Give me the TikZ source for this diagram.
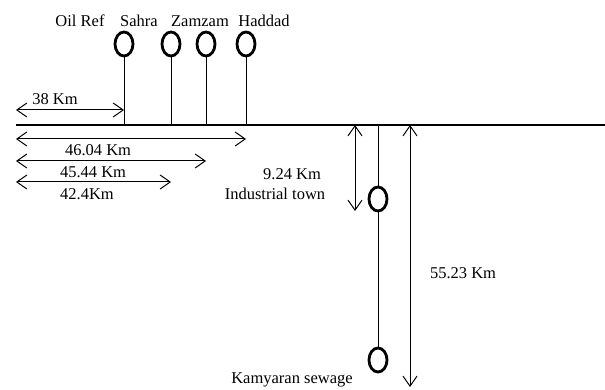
\documentclass[tikz,border=0pt]{standalone}
\usepackage{fontspec}
\setmainfont{Liberation Serif}
\usetikzlibrary{arrows.meta,shapes.geometric}
\begin{document}
\begin{tikzpicture}[x=1pt, y=-1pt, >={Straight Barb[length=10pt,width=14pt]},
    font=\fontsize{16.5}{19}\selectfont]
    \tikzset{well/.style={ellipse,draw,line width=2.8pt,minimum width=18pt,minimum height=24pt,inner sep=0pt},
             lbl/.style={inner sep=0pt}}
    \useasboundingbox (0,0) rectangle (605,390);

    % ground line
    \coordinate (L) at (16,125);
    \coordinate (R) at (605,125);
    \draw[line width=1.2pt] (L) -- (R);

    % wells above the line
    \node[well] (oil) at (124,44) {};
    \node[well] (sahra) at (171,44) {};
    \node[well] (zamzam) at (206,44) {};
    \node[well] (haddad) at (246,44) {};
    \draw[line width=0.9pt] (oil) -- (oil |- L);
    \draw[line width=0.9pt] (sahra) -- (sahra |- L);
    \draw[line width=0.9pt] (zamzam) -- (zamzam |- L);
    \draw[line width=0.9pt] (haddad) -- (haddad |- L);

    \node[lbl] (oiltxt) at (80,21) {Oil Ref};
    \node[lbl] (sahratxt) at (139,21) {Sahra};
    \node[lbl] (zamzamtxt) at (200,21) {Zamzam};
    \node[lbl] (haddadtxt) at (264,21) {Haddad};

    % distances along the line
    \coordinate (a1) at (16,110);
    \coordinate (a2) at (16,139);
    \coordinate (a3) at (16,161);
    \coordinate (a4) at (16,182);
    \draw[<->,line width=1pt] (a1) -- (a1 -| oil);
    \draw[<->,line width=1pt] (a2) -- (a2 -| haddad);
    \draw[<->,line width=1pt] (a3) -- (a3 -| zamzam);
    \draw[<->,line width=1pt] (a4) -- (a4 -| sahra);
    \node[lbl] (d38) at (55,99) {38 Km};
    \node[lbl] (d46) at (98,150) {46.04 Km};
    \node[lbl] (d45) at (93,172) {45.44 Km};
    \node[lbl] (d42) at (87,194) {42.4Km};

    % branch below the line
    \coordinate (T) at (378,125);
    \node[well] (ind) at (378,199) {};
    \node[well] (kam) at (378,360) {};
    \draw[line width=0.9pt] (T) -- (ind);
    \draw[line width=0.9pt] (ind) -- (kam);

    \coordinate (b1) at (355,125);
    \coordinate (b2) at (355,211);
    \coordinate (c1) at (410,125);
    \coordinate (c2) at (410,387);
    \draw[<->,line width=1pt] (b1) -- (b2);
    \draw[<->,line width=1pt] (c1) -- (c2);

    \node[lbl] (d9) at (292,174) {9.24 Km};
    \node[lbl] (indtxt) at (275,194) {Industrial town};
    \node[lbl] (d55) at (463,273) {55.23 Km};
    \node[lbl] (kamtxt) at (292,380) {Kamyaran sewage};
\end{tikzpicture}
\end{document}
